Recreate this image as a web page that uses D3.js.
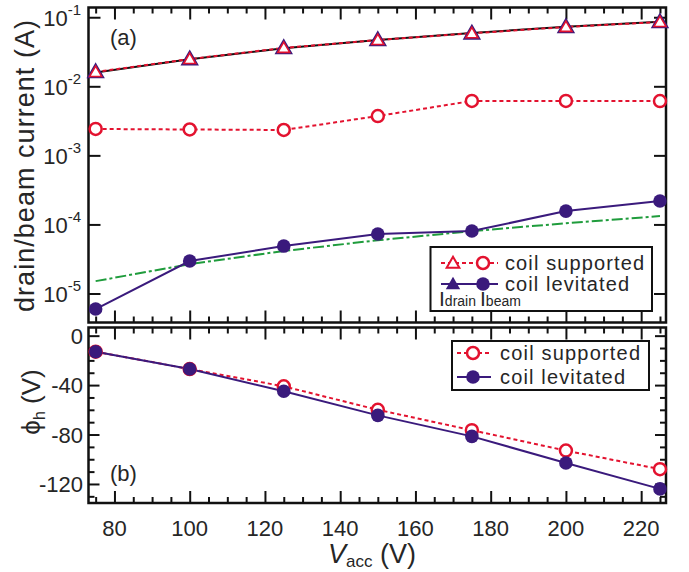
<!DOCTYPE html>
<html>
<head>
<meta charset="utf-8">
<script src="https://d3js.org/d3.v7.min.js"></script>
<style>
  body { margin: 0; background: #fff; }
  text { font-family: "Liberation Sans", Arial, sans-serif; fill: #262626; }
</style>
</head>
<body>
<svg width="689" height="572"></svg>
<script>
// data
const vacc = [75, 100, 125, 150, 175, 200, 225];
const drainSupported = [0.0161, 0.0248, 0.0359, 0.0468, 0.0585, 0.0723, 0.0853];
const drainLevitated = [0.0159, 0.0246, 0.0357, 0.0470, 0.0590, 0.0730, 0.0860];
const beamSupported = [0.00241, 0.00237, 0.00233, 0.00371, 0.00613, 0.00613, 0.00612];
const beamLevitated = [5.96e-6, 2.95e-5, 4.86e-5, 7.26e-5, 8.02e-5, 1.56e-4, 2.18e-4];
const beamFit = [1.51e-5, 2.66e-5, 4.13e-5, 5.9e-5, 8.0e-5, 1.04e-4, 1.32e-4];
const phiSupported = [-13, -27, -41, -60, -76.5, -93, -108];
const phiLevitated = [-13, -27, -45, -64.5, -81.5, -103, -124];

const xMajor = [80, 100, 120, 140, 160, 180, 200, 220];
const logTicks = [-1, -2, -3, -4, -5];
const phiMajor = [0, -40, -80, -120];

const red = "#e3122f", purple = "#3a1a7c", green = "#1f9c3c";

const svg = d3.select("svg");

const L = 88.5, R = 666;
const top1 = 7.5, bot1 = 322.5, top2 = 327.5, bot2 = 503;

const x = d3.scaleLinear().domain([73.1, 226.6]).range([L, R]);
const yA = d3.scaleLog().domain([Math.pow(10, -5.42), Math.pow(10, -0.859)]).range([bot1, top1]);
const yB = d3.scaleLinear().domain([-135.4, 6.6]).range([bot2, top2]);

const xMinor = d3.range(75, 226, 5).filter(v => v % 20 !== 0);
const phiMinor = d3.range(0, -136, -10).filter(v => v % 40 !== 0);

function ticks(g, axis) {
  g.call(axis);
  g.select(".domain").remove();
  g.selectAll("line").attr("stroke", "#111").attr("stroke-width", 2);
}

// x ticks on all four horizontal edges, pointing inward
[[top1, d3.axisTop], [bot1, d3.axisBottom], [top2, d3.axisTop], [bot2, d3.axisBottom]].forEach(([yy, ax]) => {
  svg.append("g").attr("transform", `translate(0,${yy})`)
    .call(g => ticks(g, ax(x).tickValues(xMajor).tickSize(-12).tickFormat("")));
  svg.append("g").attr("transform", `translate(0,${yy})`)
    .call(g => ticks(g, ax(x).tickValues(xMinor).tickSize(-6).tickFormat("")));
});

// y ticks, panel (a)
svg.append("g").attr("transform", `translate(${L},0)`)
  .call(g => ticks(g, d3.axisLeft(yA).tickValues(logTicks.map(e => Math.pow(10, e))).tickSize(-12).tickFormat("")));
svg.append("g").attr("transform", `translate(${R},0)`)
  .call(g => ticks(g, d3.axisRight(yA).tickValues(logTicks.map(e => Math.pow(10, e))).tickSize(-12).tickFormat("")));

// y ticks, panel (b)
[[L, d3.axisLeft], [R, d3.axisRight]].forEach(([xx, ax]) => {
  svg.append("g").attr("transform", `translate(${xx},0)`)
    .call(g => ticks(g, ax(yB).tickValues(phiMajor).tickSize(-11).tickFormat("")));
  svg.append("g").attr("transform", `translate(${xx},0)`)
    .call(g => ticks(g, ax(yB).tickValues(phiMinor).tickSize(-6).tickFormat("")));
});

// frames
svg.append("rect").attr("x", L).attr("y", top1).attr("width", R - L).attr("height", bot1 - top1)
  .attr("fill", "none").attr("stroke", "#111").attr("stroke-width", 2.5);
svg.append("rect").attr("x", L).attr("y", top2).attr("width", R - L).attr("height", bot2 - top2)
  .attr("fill", "none").attr("stroke", "#111").attr("stroke-width", 2.5);

// tick labels
const lab = svg.append("g").attr("font-size", 22);
logTicks.forEach(e => {
  const t = lab.append("text").attr("x", 81).attr("y", yA(Math.pow(10, e)) + 9).attr("text-anchor", "end");
  t.append("tspan").text("10");
  t.append("tspan").attr("dy", -11).attr("font-size", 15).text(e);
});
phiMajor.forEach(v => {
  lab.append("text").attr("x", 83).attr("y", yB(v) + 8).attr("text-anchor", "end").text(v);
});
xMajor.forEach(v => {
  lab.append("text").attr("x", x(v)).attr("y", 536).attr("text-anchor", "middle").text(v);
});

// axis titles
svg.append("text").attr("transform", "translate(34,166) rotate(-90)")
  .attr("text-anchor", "middle").attr("font-size", 27).attr("textLength", 292)
  .text("drain/beam current (A)");

const phiT = svg.append("text").attr("transform", "translate(40,402) rotate(-90)")
  .attr("text-anchor", "middle").attr("font-size", 26);
phiT.append("tspan").text("\u03d5");
phiT.append("tspan").attr("font-size", 16).attr("dy", 5).text("h");
phiT.append("tspan").attr("dy", -5).text(" (V)");

const xT = svg.append("text").attr("x", 372).attr("y", 563).attr("text-anchor", "middle").attr("font-size", 27);
xT.append("tspan").attr("font-style", "italic").text("V");
xT.append("tspan").attr("font-size", 17).attr("dy", 4).text("acc");
xT.append("tspan").attr("dy", -4).text(" (V)");

svg.append("text").attr("x", 110).attr("y", 45).attr("font-size", 22).text("(a)");
svg.append("text").attr("x", 110).attr("y", 481).attr("font-size", 22).text("(b)");

// series helpers
const tri = d3.symbol().type(d3.symbolTriangle);

function line(yScale, vals, color, dash) {
  svg.append("path")
    .datum(vals.map((v, i) => [vacc[i], v]))
    .attr("d", d3.line().x(d => x(d[0])).y(d => yScale(d[1])))
    .attr("fill", "none").attr("stroke", color).attr("stroke-width", 2)
    .attr("stroke-dasharray", dash || null);
}

function dots(yScale, vals, open, color) {
  svg.append("g").selectAll("circle").data(vals).join("circle")
    .attr("cx", (d, i) => x(vacc[i])).attr("cy", d => yScale(d))
    .attr("r", open ? 6 : 6.8)
    .attr("fill", open ? "#fff" : color)
    .attr("stroke", color).attr("stroke-width", open ? 2.5 : 0);
}

// panel (a)
line(yA, beamFit, green, "11,3,3,3");
line(yA, drainLevitated, "#111");
line(yA, drainSupported, red, "4,3");
line(yA, beamSupported, red, "4,3");
line(yA, beamLevitated, purple);

svg.append("g").selectAll("path").data(drainSupported).join("path")
  .attr("transform", (d, i) => `translate(${x(vacc[i])},${yA(d) + 1})`)
  .attr("d", tri.size(80)())
  .attr("fill", "#fff").attr("stroke", purple).attr("stroke-width", 2.8);
svg.append("g").selectAll("path").data(drainSupported).join("path")
  .attr("transform", (d, i) => `translate(${x(vacc[i])},${yA(d) + 1})`)
  .attr("d", tri.size(62)())
  .attr("fill", "#fff").attr("stroke", red).attr("stroke-width", 1.6);

dots(yA, beamSupported, true, red);
dots(yA, beamLevitated, false, purple);

// panel (b)
line(yB, phiSupported, red, "4,3");
line(yB, phiLevitated, purple);
dots(yB, phiSupported, true, red);
dots(yB, phiLevitated, false, purple);

// legend (a)
const lgA = svg.append("g");
lgA.append("rect").attr("x", 430.5).attr("y", 247).attr("width", 221.5).attr("height", 64)
  .attr("fill", "#fff").attr("stroke", "#111").attr("stroke-width", 2);
lgA.append("line").attr("x1", 441).attr("x2", 498).attr("y1", 263).attr("y2", 263)
  .attr("stroke", red).attr("stroke-width", 2).attr("stroke-dasharray", "4,3");
lgA.append("line").attr("x1", 441).attr("x2", 498).attr("y1", 284).attr("y2", 284)
  .attr("stroke", purple).attr("stroke-width", 2);
lgA.append("path").attr("transform", "translate(453,264)").attr("d", tri.size(70)())
  .attr("fill", "#fff").attr("stroke", red).attr("stroke-width", 2);
lgA.append("circle").attr("cx", 483).attr("cy", 263).attr("r", 6)
  .attr("fill", "#fff").attr("stroke", red).attr("stroke-width", 2.5);
lgA.append("path").attr("transform", "translate(453,285)").attr("d", tri.size(90)())
  .attr("fill", purple);
lgA.append("circle").attr("cx", 483).attr("cy", 284).attr("r", 6.8).attr("fill", purple);
lgA.append("text").attr("x", 505).attr("y", 270).attr("font-size", 20).attr("textLength", 139).text("coil supported");
lgA.append("text").attr("x", 505).attr("y", 291).attr("font-size", 20).attr("textLength", 124).text("coil levitated");
[[439, "drain"], [480, "beam"]].forEach(([xx, s]) => {
  const t = lgA.append("text").attr("x", xx).attr("y", 306);
  t.append("tspan").attr("font-size", 21).text("I");
  t.append("tspan").attr("font-size", 14).text(s);
});

// legend (b)
const lgB = svg.append("g");
lgB.append("rect").attr("x", 452).attr("y", 341).attr("width", 197).attr("height", 49)
  .attr("fill", "#fff").attr("stroke", "#111").attr("stroke-width", 2);
lgB.append("line").attr("x1", 457).attr("x2", 491).attr("y1", 353).attr("y2", 353)
  .attr("stroke", red).attr("stroke-width", 2).attr("stroke-dasharray", "4,3");
lgB.append("line").attr("x1", 457).attr("x2", 491).attr("y1", 377).attr("y2", 377)
  .attr("stroke", purple).attr("stroke-width", 2);
lgB.append("circle").attr("cx", 473).attr("cy", 353).attr("r", 6)
  .attr("fill", "#fff").attr("stroke", red).attr("stroke-width", 2.5);
lgB.append("circle").attr("cx", 473).attr("cy", 377).attr("r", 6.8).attr("fill", purple);
lgB.append("text").attr("x", 500).attr("y", 360).attr("font-size", 20).attr("textLength", 140).text("coil supported");
lgB.append("text").attr("x", 500).attr("y", 384).attr("font-size", 20).attr("textLength", 125).text("coil levitated");
</script>
</body>
</html>
